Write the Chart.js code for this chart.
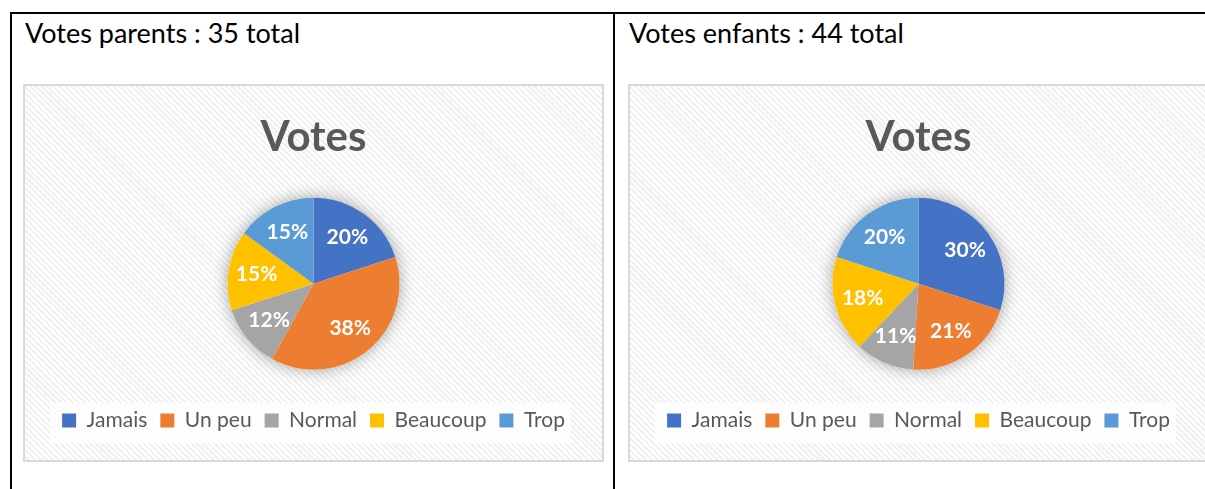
<!DOCTYPE html>
<html lang="fr">
<head>
<meta charset="utf-8">
<title>Votes</title>
<script src="https://cdn.jsdelivr.net/npm/chart.js@4.4.1/dist/chart.umd.min.js"></script>
<style>
    html, body { margin: 0; padding: 0; background: #fff; }
    body { width: 1205px; height: 489px; position: relative; overflow: hidden; font-family: Lato, 'Noto Sans', sans-serif; }
    .rule { position: absolute; background: #000; }
    .heading { position: absolute; top: 17px; font-size: 27px; line-height: 32px; color: #000; white-space: nowrap; }
    .chart-box {
        position: absolute; top: 84px; width: 577px; height: 374px;
        border: 2px solid #d9d9d9;
        background: repeating-linear-gradient(45deg, #ffffff 0 2px, #f1f1f1 2px 4.2px);
    }
    .chart-box canvas { display: block; }
</style>
</head>
<body>
    <div class="rule" style="left:10px; top:12px; width:1195px; height:2px;"></div>
    <div class="rule" style="left:10px; top:12px; width:2px; height:477px;"></div>
    <div class="rule" style="left:613px; top:12px; width:2px; height:477px;"></div>

    <div class="heading" style="left:25px;">Votes parents : 35 total</div>
    <div class="heading" style="left:629px;">Votes enfants : 44 total</div>

    <div class="chart-box" style="left:23px;"><canvas id="parentsChart" width="577" height="374"></canvas></div>
    <div class="chart-box" style="left:628px;"><canvas id="enfantsChart" width="577" height="374"></canvas></div>

<script>
const categories = ['Jamais', 'Un peu', 'Normal', 'Beaucoup', 'Trop'];
const parentsVotes = [20, 38, 12, 15, 15];
const enfantsVotes = [30, 21, 11, 18, 20];
const chartTitle = 'Votes';
const sliceColors = ['#4472C4', '#ED7D31', '#A5A5A5', '#FFC000', '#5B9BD5'];

document.addEventListener('DOMContentLoaded', function() {
    // soft halo under the pie, like the office shadow
    const pieShadow = {
        id: 'pieShadow',
        beforeDatasetsDraw(chart) {
            const arc = chart.getDatasetMeta(0).data[0];
            if (!arc) return;
            const ctx = chart.ctx;
            ctx.save();
            ctx.shadowColor = 'rgba(0, 0, 0, 0.35)';
            ctx.shadowBlur = 16;
            ctx.beginPath();
            ctx.arc(arc.x, arc.y, arc.outerRadius, 0, Math.PI * 2);
            ctx.fillStyle = '#fff';
            ctx.fill();
            ctx.restore();
        }
    };

    // lighter panel behind the legend
    const legendPanel = {
        id: 'legendPanel',
        beforeDraw(chart) {
            const boxes = chart.legend && chart.legend.legendHitBoxes;
            if (!boxes || !boxes.length) return;
            const left = Math.min(...boxes.map(b => b.left)) - 12;
            const right = Math.max(...boxes.map(b => b.left + b.width)) + 6;
            const mid = boxes[0].top + boxes[0].height / 2;
            const ctx = chart.ctx;
            ctx.save();
            ctx.fillStyle = 'rgba(255, 255, 255, 0.75)';
            ctx.fillRect(left, mid - 18, right - left, 41);
            ctx.restore();
        }
    };

    // percentage labels inside the slices
    const sliceLabels = {
        id: 'sliceLabels',
        afterDatasetsDraw(chart) {
            const ctx = chart.ctx;
            const values = chart.data.datasets[0].data;
            const total = values.reduce((sum, v) => sum + v, 0);
            ctx.save();
            ctx.font = 'bold 21px Lato, "Noto Sans", sans-serif';
            ctx.fillStyle = '#ffffff';
            ctx.textAlign = 'center';
            ctx.textBaseline = 'middle';
            chart.getDatasetMeta(0).data.forEach((arc, i) => {
                const mid = (arc.startAngle + arc.endAngle) / 2;
                const r = arc.outerRadius * 0.67;
                const text = Math.round(values[i] / total * 100) + '%';
                ctx.fillText(text, arc.x + Math.cos(mid) * r, arc.y + Math.sin(mid) * r);
            });
            ctx.restore();
        }
    };

    function makePie(canvasId, values) {
        const ctx = document.getElementById(canvasId).getContext('2d');
        return new Chart(ctx, {
            type: 'pie',
            data: {
                labels: categories,
                datasets: [{
                    data: values,
                    backgroundColor: sliceColors,
                    borderWidth: 0
                }]
            },
            options: {
                responsive: false,
                animation: false,
                radius: 86,
                layout: { padding: { top: 0, bottom: 19, left: 0, right: 0 } },
                plugins: {
                    title: {
                        display: true,
                        text: chartTitle,
                        color: '#595959',
                        font: { family: 'Lato', size: 42, weight: 'bold', lineHeight: 1.2 },
                        padding: { top: 26, bottom: 8 }
                    },
                    legend: {
                        position: 'bottom',
                        labels: {
                            color: '#595959',
                            font: { family: 'Lato', size: 21 },
                            boxWidth: 14,
                            boxHeight: 14,
                            padding: 13
                        }
                    },
                    tooltip: { enabled: false }
                }
            },
            plugins: [pieShadow, legendPanel, sliceLabels]
        });
    }

    makePie('parentsChart', parentsVotes);
    makePie('enfantsChart', enfantsVotes);
});
</script>
</body>
</html>
